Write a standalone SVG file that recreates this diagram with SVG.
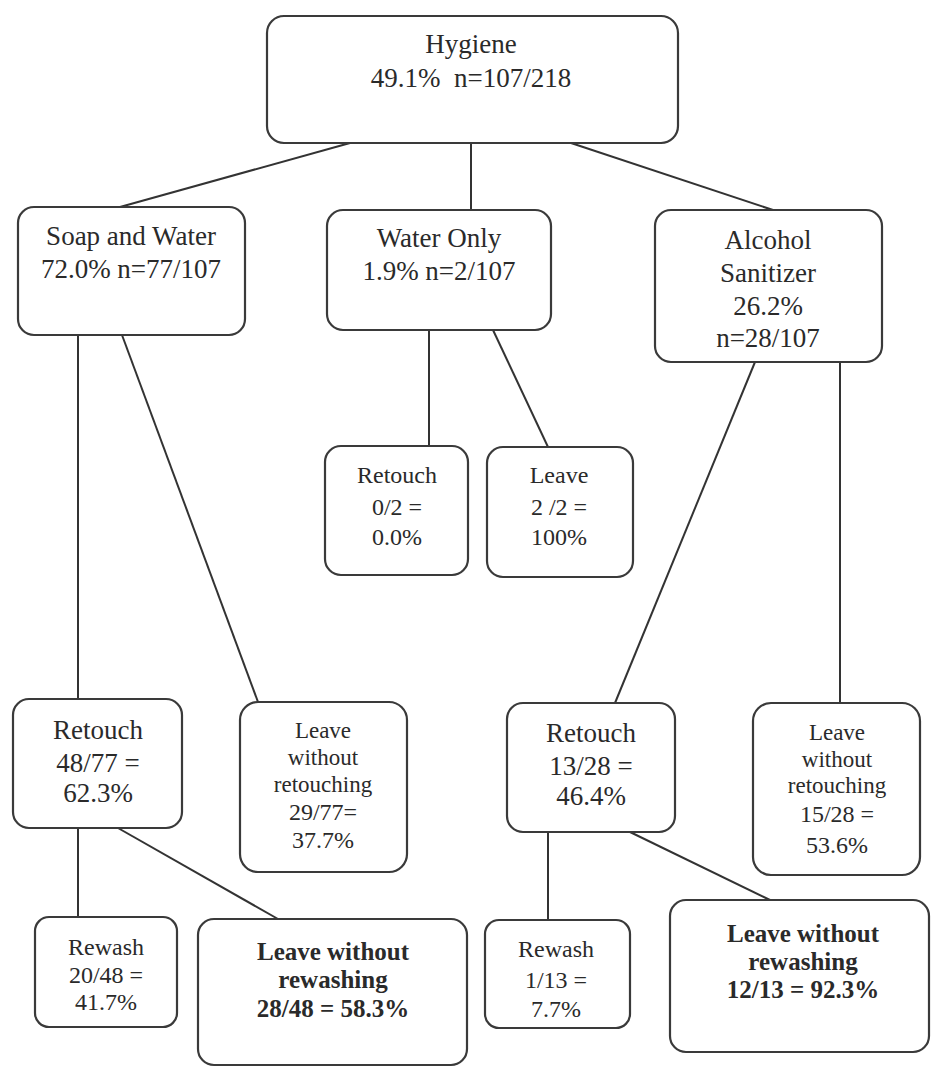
<svg xmlns="http://www.w3.org/2000/svg" width="932" height="1067" viewBox="0 0 932 1067">
<style>
.box{fill:#fff;stroke:#3a3a3a;stroke-width:2.2}
.conn line{stroke:#333;stroke-width:2}
text{font-family:"Liberation Serif","Times New Roman",serif;fill:#2a2a2a;text-anchor:middle}
.l{font-size:27px}
.m{font-size:24px}
.s{font-size:23px}
.b{font-size:25px;font-weight:bold}
</style>
<rect width="932" height="1067" fill="#fff"/>
<g class="conn">
<line x1="350" y1="143" x2="120" y2="207"/>
<line x1="471" y1="143" x2="471" y2="210"/>
<line x1="571" y1="143" x2="773" y2="210"/>
<line x1="78" y1="335" x2="78" y2="699"/>
<line x1="122" y1="335" x2="258" y2="702"/>
<line x1="429" y1="330" x2="429" y2="446"/>
<line x1="493" y1="330" x2="548" y2="447"/>
<line x1="755" y1="362" x2="615" y2="703"/>
<line x1="840" y1="362" x2="840" y2="703"/>
<line x1="78" y1="828" x2="78" y2="917"/>
<line x1="118" y1="828" x2="278" y2="919"/>
<line x1="548" y1="832" x2="548" y2="920"/>
<line x1="630" y1="832" x2="770" y2="900"/>
</g>
<g id="hygiene"><rect class="box" x="267" y="16" width="411" height="127" rx="17"/>
<text class="l" x="471" y="53">Hygiene</text><text class="l" x="471" y="87" xml:space="preserve">49.1%  n=107/218</text></g>
<g id="soap"><rect class="box" x="18" y="207" width="227" height="128" rx="16"/>
<text class="l" x="131" y="245">Soap and Water</text><text class="l" x="131" y="278">72.0% n=77/107</text></g>
<g id="water"><rect class="box" x="327" y="210" width="224" height="120" rx="16"/>
<text class="l" x="439" y="247">Water Only</text><text class="l" x="439" y="280">1.9% n=2/107</text></g>
<g id="alcohol"><rect class="box" x="655" y="210" width="227" height="152" rx="16"/>
<text class="l" x="768" y="249">Alcohol</text><text class="l" x="768" y="282">Sanitizer</text><text class="l" x="768" y="315">26.2%</text><text class="l" x="768" y="347">n=28/107</text></g>
<g id="wo-retouch"><rect class="box" x="325" y="446" width="143" height="129" rx="16"/>
<text class="m" x="397" y="483">Retouch</text><text class="m" x="397" y="515">0/2 =</text><text class="m" x="397" y="545">0.0%</text></g>
<g id="wo-leave"><rect class="box" x="487" y="447" width="146" height="130" rx="16"/>
<text class="m" x="559" y="483">Leave</text><text class="m" x="559" y="515">2 /2 =</text><text class="m" x="559" y="545">100%</text></g>
<g id="sw-retouch"><rect class="box" x="13" y="699" width="169" height="129" rx="16"/>
<text class="l" x="98" y="739">Retouch</text><text class="l" x="98" y="772">48/77 =</text><text class="l" x="98" y="802">62.3%</text></g>
<g id="sw-leave"><rect class="box" x="240" y="702" width="167" height="170" rx="18"/>
<text class="s" x="323" y="738">Leave</text><text class="s" x="323" y="765">without</text><text class="s" x="323" y="792">retouching</text><text class="m" x="323" y="820">29/77=</text><text class="m" x="323" y="848">37.7%</text></g>
<g id="as-retouch"><rect class="box" x="507" y="703" width="168" height="129" rx="16"/>
<text class="l" x="591" y="742">Retouch</text><text class="l" x="591" y="775">13/28 =</text><text class="l" x="591" y="805">46.4%</text></g>
<g id="as-leave"><rect class="box" x="753" y="703" width="167" height="172" rx="18"/>
<text class="s" x="837" y="740">Leave</text><text class="s" x="837" y="767">without</text><text class="s" x="837" y="793">retouching</text><text class="m" x="837" y="822">15/28 =</text><text class="m" x="837" y="853">53.6%</text></g>
<g id="sw-rewash"><rect class="box" x="35" y="917" width="142" height="110" rx="14"/>
<text class="m" x="106" y="955">Rewash</text><text class="m" x="106" y="983">20/48 =</text><text class="m" x="106" y="1010">41.7%</text></g>
<g id="sw-norewash"><rect class="box" x="198" y="919" width="269" height="146" rx="16"/>
<text class="b" x="333" y="960">Leave without</text><text class="b" x="333" y="988">rewashing</text><text class="b" x="333" y="1017">28/48 = 58.3%</text></g>
<g id="as-rewash"><rect class="box" x="485" y="920" width="145" height="108" rx="14"/>
<text class="m" x="556" y="957">Rewash</text><text class="m" x="556" y="988">1/13 =</text><text class="m" x="556" y="1017">7.7%</text></g>
<g id="as-norewash"><rect class="box" x="670" y="900" width="259" height="152" rx="16"/>
<text class="b" x="803" y="942">Leave without</text><text class="b" x="803" y="970">rewashing</text><text class="b" x="803" y="998">12/13 = 92.3%</text></g>
</svg>
